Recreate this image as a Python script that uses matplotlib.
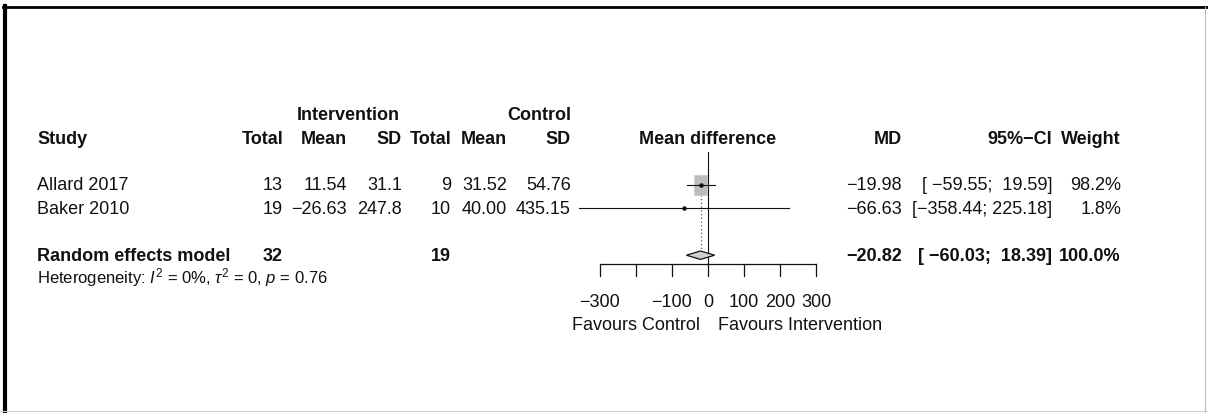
import matplotlib
matplotlib.use("Agg")
from matplotlib import pyplot as plt
from matplotlib.lines import Line2D
from matplotlib.patches import Polygon, Rectangle
from matplotlib.transforms import blended_transform_factory

plt.rcParams['font.family'] = ['Liberation Sans', 'DejaVu Sans']
plt.rcParams['mathtext.fontset'] = 'custom'
plt.rcParams['mathtext.rm'] = 'Liberation Sans'
plt.rcParams['mathtext.it'] = 'Liberation Sans:italic'

# Studiedata
studies = ["Allard 2017", "Baker 2010"]
int_total = [13, 19]
int_mean = [11.54, -26.63]
int_sd = [31.1, 247.8]
ctl_total = [9, 10]
ctl_mean = [31.52, 40.00]
ctl_sd = [54.76, 435.15]
md = [-19.98, -66.63]
ci_lo = [-59.55, -358.44]
ci_hi = [19.59, 225.18]
weight = [98.2, 1.8]

# Poolad skattning (random effects)
pooled_label = "Random effects model"
pooled_md = -20.82
pooled_lo = -60.03
pooled_hi = 18.39
pooled_int_total = 32
pooled_ctl_total = 19
pooled_weight = 100.0
het_text = r"Heterogeneity: $I^2$ = 0%, $\tau^2$ = 0, $p$ = 0.76"

ticks = [-300, -200, -100, 0, 100, 200, 300]
tick_labels = ["\u2212300", "", "\u2212100", "0", "100", "200", "300"]

W, H = 1208, 414
fig = plt.figure(figsize=(W / 100, H / 100), dpi=100)
fig.patch.set_facecolor("white")

# Rader: rad 1 ligger på y=186 px, 23.4 px mellan rader
row0, dy = 186, 23.4
zero_px, px_per_unit = 708, 0.36
ax = fig.add_axes([0, 0, 1, 1])
ax.set_xlim(-zero_px / px_per_unit, (W - zero_px) / px_per_unit)
ax.set_ylim(1 + (H - row0) / dy, 1 - row0 / dy)
ax.axis("off")

tr = blended_transform_factory(fig.transFigure, ax.transData)
FS = 13
col = "#111111"


def txt(xpx, row, s, ha="right", bold=False, size=FS):
    ax.text(xpx / W, row, s, transform=tr, ha=ha, va="center", fontsize=size,
            fontweight="bold" if bold else "normal", color=col)


def fmt(v, d):
    s = f"{v:.{d}f}"
    return s.replace("-", "\u2212")


# Rubriker
hr = -1
txt(400, hr - 1, "Intervention", bold=True)
txt(571, hr - 1, "Control", bold=True)
txt(37, hr, "Study", ha="left", bold=True)
txt(283, hr, "Total", bold=True)
txt(347, hr, "Mean", bold=True)
txt(402, hr, "SD", bold=True)
txt(451, hr, "Total", bold=True)
txt(507, hr, "Mean", bold=True)
txt(571, hr, "SD", bold=True)
txt(708, hr, "Mean difference", ha="center", bold=True)
txt(902, hr, "MD", bold=True)
txt(1052, hr, "95%\u2212CI", bold=True)
txt(1121, hr, "Weight", bold=True)

# Studierader
for i, name in enumerate(studies):
    r = i + 1
    txt(37, r, name, ha="left")
    txt(283, r, str(int_total[i]))
    txt(347, r, fmt(int_mean[i], 2))
    txt(402, r, fmt(int_sd[i], 1))
    txt(451, r, str(ctl_total[i]))
    txt(507, r, fmt(ctl_mean[i], 2))
    txt(571, r, fmt(ctl_sd[i], 2))
    txt(902, r, fmt(md[i], 2))
    lo = fmt(ci_lo[i], 2).rjust(7)
    hi = fmt(ci_hi[i], 2).rjust(6)
    txt(1052, r, f"[{lo}; {hi}]")
    txt(1121, r, f"{weight[i]:.1f}%")

pr = 4
txt(37, pr, pooled_label, ha="left", bold=True)
txt(283, pr, str(pooled_int_total), bold=True)
txt(451, pr, str(pooled_ctl_total), bold=True)
txt(902, pr, fmt(pooled_md, 2), bold=True)
txt(1052, pr, f"[{fmt(pooled_lo, 2).rjust(7)}; {fmt(pooled_hi, 2).rjust(6)}]", bold=True)
txt(1121, pr, f"{pooled_weight:.1f}%", bold=True)
txt(37, 4.9, het_text, ha="left", size=12)

# Forest-delen
axis_row = 4.38
ax.plot([0, 0], [-0.42, axis_row], color=col, lw=0.8, zorder=1)
ax.plot([pooled_md, pooled_md], [0.6, pr - 0.2], color="#555555", lw=0.9,
        ls=(0, (1, 2)), zorder=1)
wmax = max(weight)
box_w, box_h = 36, 0.86  # största rutan, i x-enheter resp. rader
for i in range(len(studies)):
    r = i + 1
    s = (weight[i] / wmax) ** 0.5
    ax.add_patch(Rectangle((md[i] - box_w * s / 2, r - box_h * s / 2),
                           box_w * s, box_h * s, facecolor="#bdbdbd",
                           edgecolor="#c8c8c8", lw=0.5, zorder=2))
    ax.plot([ci_lo[i], ci_hi[i]], [r, r], color=col, lw=0.8, zorder=3)
    ax.plot(md[i], r, marker="o", ms=2.2, color=col, zorder=4)

dh = 0.18
diamond = Polygon([[pooled_lo, pr], [pooled_md, pr - dh], [pooled_hi, pr],
                   [pooled_md, pr + dh]], closed=True, facecolor="#d0d0d0",
                  edgecolor=col, lw=0.9, zorder=3)
ax.add_patch(diamond)

# x-axel
ax.plot([ticks[0], ticks[-1]], [axis_row, axis_row], color=col, lw=0.9)
for t, lab in zip(ticks, tick_labels):
    ax.plot([t, t], [axis_row, axis_row + 0.5], color=col, lw=0.9)
    if lab:
        ax.text(t, 5.96, lab, ha="center", va="center", fontsize=FS, color=col)
ax.text(-22, 6.98, "Favours Control", ha="right", va="center", fontsize=FS, color=col)
ax.text(28, 6.98, "Favours Intervention", ha="left", va="center", fontsize=FS, color=col)

# Ram runt bilden
fig.add_artist(Line2D([5 / W, 5 / W], [0, 1 - 7 / H], transform=fig.transFigure,
                      color="black", lw=3))
fig.add_artist(Line2D([3 / W, 1], [1 - 8 / H, 1 - 8 / H], transform=fig.transFigure,
                      color="black", lw=2))
fig.add_artist(Line2D([1205 / W, 1205 / W], [0, 1 - 8 / H], transform=fig.transFigure,
                      color="#bbbbbb", lw=0.8))
fig.add_artist(Line2D([0, 1], [2 / H, 2 / H], transform=fig.transFigure,
                      color="#cccccc", lw=0.8))

fig.savefig("out.png", dpi=100)
